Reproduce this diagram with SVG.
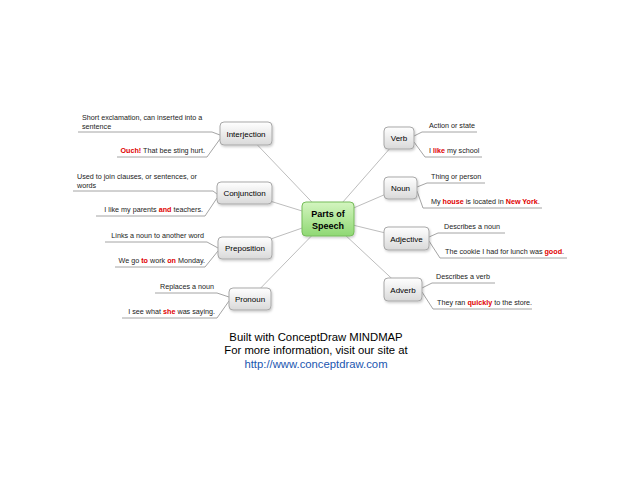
<svg xmlns="http://www.w3.org/2000/svg" width="640" height="480" viewBox="0 0 640 480">
<defs>
<linearGradient id="gNode" x1="0" y1="0" x2="0" y2="1">
<stop offset="0" stop-color="#ffffff"/>
<stop offset="1" stop-color="#d9d9d9"/>
</linearGradient>
<linearGradient id="gMain" x1="0" y1="0" x2="0" y2="1">
<stop offset="0" stop-color="#d4f5c0"/>
<stop offset="1" stop-color="#8fd873"/>
</linearGradient>
<filter id="sh" x="-20%" y="-20%" width="150%" height="160%">
<feDropShadow dx="1" dy="1.5" stdDeviation="1" flood-color="#000" flood-opacity="0.2"/>
</filter>
</defs>
<style>
.node{fill:url(#gNode);stroke:#a8a8a8;stroke-width:1}
.main{fill:url(#gMain);stroke:#76bd5a;stroke-width:1}
.lbl{font-family:"Liberation Sans",Arial,sans-serif;font-size:8px;fill:#000;text-anchor:middle}
.mlbl{font-family:"Liberation Sans",Arial,sans-serif;font-size:9px;font-weight:bold;fill:#000;text-anchor:middle}
.t{font-family:"Liberation Sans",Arial,sans-serif;font-size:7.2px;fill:#222}
.e{text-anchor:end}
.r{fill:#e00000;font-weight:bold}
.con line{stroke:#bdbdbd;stroke-width:1}
.con polyline{fill:none;stroke:#9a9a9a;stroke-width:0.9}
.foot{font-family:"Liberation Sans",Arial,sans-serif;font-size:11.3px;fill:#000;text-anchor:middle}
</style>
<rect width="640" height="480" fill="#fff"/>
<g id="connectors" class="con">
<line x1="328" y1="219" x2="246" y2="133"/>
<line x1="328" y1="219" x2="244" y2="193"/>
<line x1="328" y1="219" x2="245" y2="248"/>
<line x1="328" y1="219" x2="250" y2="299"/>
<line x1="328" y1="219" x2="399" y2="138"/>
<line x1="328" y1="219" x2="400" y2="188"/>
<line x1="328" y1="219" x2="406" y2="238"/>
<line x1="328" y1="219" x2="403" y2="289"/>
<polyline points="220,135 212,132 78,132"/>
<polyline points="220,139 207,157 117,157"/>
<polyline points="217,194 213,191 73,191"/>
<polyline points="217,198 205,216 96,216"/>
<polyline points="218,248 207,242 105,242"/>
<polyline points="218,251 205,267 115,267"/>
<polyline points="229,297 217,293 155,293"/>
<polyline points="229,301 217,318 122,318"/>
<polyline points="414,136 422,132 477,132"/>
<polyline points="414,142 425,157 482,157"/>
<polyline points="417,187 427,183 485,183"/>
<polyline points="417,191 423,208 542,208"/>
<polyline points="429,237 438,233 505,233"/>
<polyline points="429,241 440,258 567,258"/>
<polyline points="422,288 432,283 495,283"/>
<polyline points="422,292 433,309 532,309"/>
</g>
<g id="main">
<rect class="main" x="302" y="202" width="52" height="34" rx="4" filter="url(#sh)"/>
<text class="mlbl" x="328" y="217">Parts of</text>
<text class="mlbl" x="328" y="229">Speech</text>
</g>
<g id="interjection">
<rect class="node" x="220" y="122" width="52" height="23" rx="4" filter="url(#sh)"/>
<text class="lbl" x="246" y="136.5">Interjection</text>
<text class="t" x="82" y="119.5">Short exclamation, can inserted into a</text>
<text class="t" x="82" y="128.5">sentence</text>
<text class="t e" x="205" y="152.5"><tspan class="r">Ouch!</tspan> That bee sting hurt.</text>
</g>
<g id="conjunction">
<rect class="node" x="217" y="182" width="55" height="22" rx="4" filter="url(#sh)"/>
<text class="lbl" x="244.5" y="196">Conjunction</text>
<text class="t" x="77" y="178.5">Used to join clauses, or sentences, or</text>
<text class="t" x="77" y="187.5">words</text>
<text class="t e" x="203" y="212">I like my parents <tspan class="r">and</tspan> teachers.</text>
</g>
<g id="preposition">
<rect class="node" x="218" y="237" width="54" height="22" rx="4" filter="url(#sh)"/>
<text class="lbl" x="245" y="251">Preposition</text>
<text class="t e" x="204" y="237.5">Links a noun to another word</text>
<text class="t e" x="205" y="262.5">We go <tspan class="r">to</tspan> work <tspan class="r">on</tspan> Monday.</text>
</g>
<g id="pronoun">
<rect class="node" x="229" y="288" width="42" height="22" rx="4" filter="url(#sh)"/>
<text class="lbl" x="250" y="302">Pronoun</text>
<text class="t e" x="214" y="288.5">Replaces a noun</text>
<text class="t e" x="215" y="313.5">I see what <tspan class="r">she</tspan> was saying.</text>
</g>
<g id="verb">
<rect class="node" x="384" y="127" width="30" height="22" rx="4" filter="url(#sh)"/>
<text class="lbl" x="399" y="141">Verb</text>
<text class="t" x="429" y="127.5">Action or state</text>
<text class="t" x="429" y="152.5">I <tspan class="r">like</tspan> my school</text>
</g>
<g id="noun">
<rect class="node" x="384" y="177" width="33" height="22" rx="4" filter="url(#sh)"/>
<text class="lbl" x="400.5" y="191">Noun</text>
<text class="t" x="431" y="178.5">Thing or person</text>
<text class="t" x="431" y="203.5">My <tspan class="r">house</tspan> is located in <tspan class="r">New York</tspan>.</text>
</g>
<g id="adjective">
<rect class="node" x="384" y="227" width="45" height="23" rx="4" filter="url(#sh)"/>
<text class="lbl" x="406.5" y="241.5">Adjective</text>
<text class="t" x="444" y="228.5">Describes a noun</text>
<text class="t" x="445" y="253.5">The cookie I had for lunch was <tspan class="r">good</tspan>.</text>
</g>
<g id="adverb">
<rect class="node" x="384" y="278" width="38" height="23" rx="4" filter="url(#sh)"/>
<text class="lbl" x="403" y="292.5">Adverb</text>
<text class="t" x="436" y="278.5">Describes a verb</text>
<text class="t" x="437" y="304.5">They ran <tspan class="r">quickly</tspan> to the store.</text>
</g>
<g id="footer">
<text class="foot" x="316" y="341">Built with ConceptDraw MINDMAP</text>
<text class="foot" x="316" y="354">For more information, visit our site at</text>
<text class="foot" x="316" y="368" style="fill:#1a56b0">http://www.conceptdraw.com</text>
</g>
</svg>
